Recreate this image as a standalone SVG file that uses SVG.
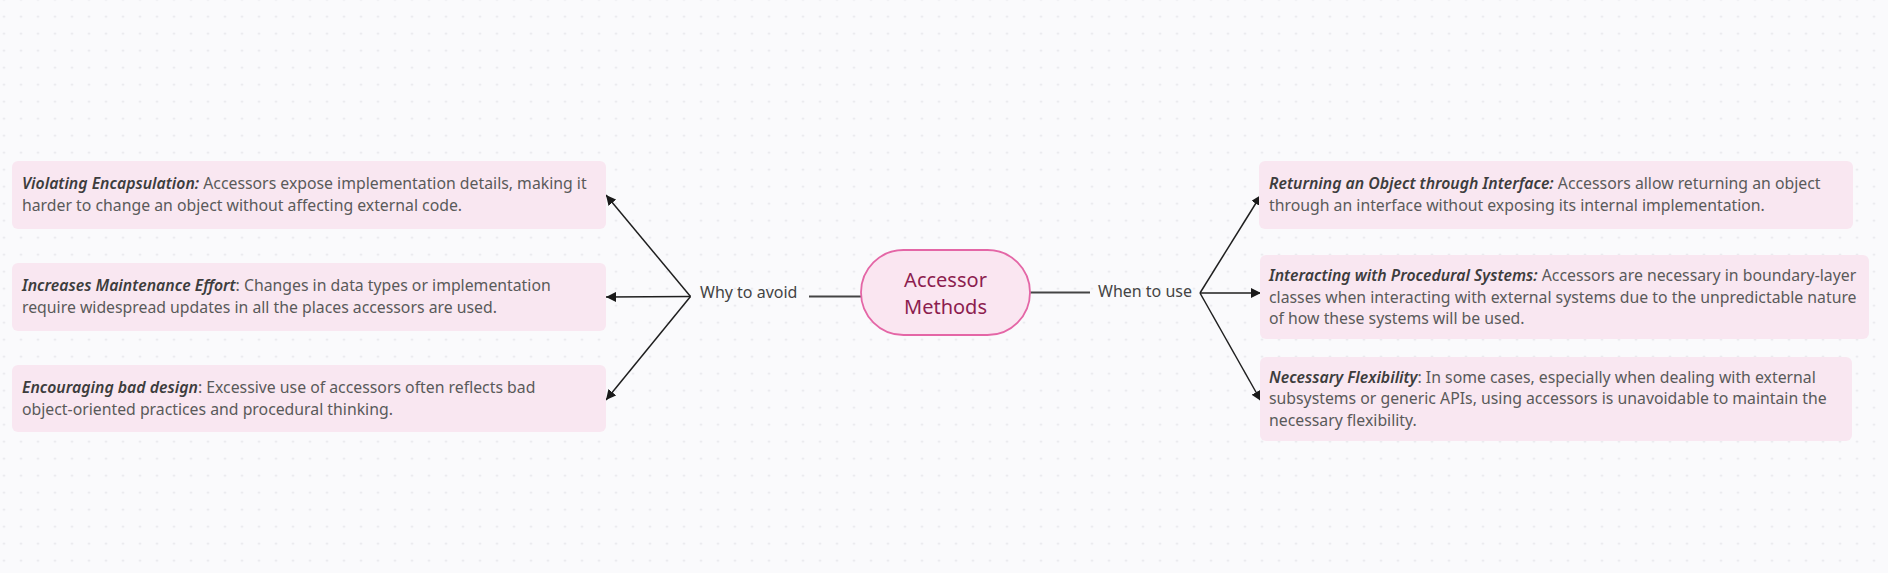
<svg xmlns="http://www.w3.org/2000/svg" width="1888" height="573" viewBox="0 0 1888 573">
<defs>
<pattern id="dots" x="-4.5" y="8.2" width="17" height="17" patternUnits="userSpaceOnUse">
<circle cx="8.5" cy="8.5" r="1" fill="#e1e1e7"/>
</pattern>
<marker id="arr" viewBox="0 0 10 10" refX="10" refY="5" markerWidth="10" markerHeight="10" markerUnits="userSpaceOnUse" orient="auto">
<path d="M0,0 L10,5 L0,10 z" fill="#1a1a1a"/>
</marker>
<style>
.box{fill:#f9e7f1;}
.t{font-family:"Noto Sans","Open Sans",sans-serif;font-size:15.8px;fill:#5a5a5a;}
.b{font-style:italic;font-weight:600;fill:#3d3d3d;}
.lbl{font-family:"Noto Sans","Open Sans",sans-serif;font-size:16px;fill:#444;}
.c{fill:none;stroke:#1f1f1f;stroke-width:1.5;}
.h{fill:none;stroke:#444;stroke-width:2;}
</style>
</defs>
<rect width="1888" height="573" fill="#fafafc"/>
<rect width="1888" height="573" fill="url(#dots)"/>

<g id="connectors">
<line class="h" x1="809" y1="296.5" x2="861" y2="296.5"/>
<line class="h" x1="1030" y1="292.5" x2="1090" y2="292.5"/>
<line class="c" x1="690.5" y1="296.5" x2="606" y2="195" marker-end="url(#arr)"/>
<line class="c" x1="690.5" y1="296.5" x2="606" y2="297" marker-end="url(#arr)"/>
<line class="c" x1="690.5" y1="296.5" x2="606" y2="400" marker-end="url(#arr)"/>
<line class="c" x1="1200" y1="293" x2="1261" y2="195" marker-end="url(#arr)"/>
<line class="c" x1="1200" y1="293" x2="1261" y2="293" marker-end="url(#arr)"/>
<line class="c" x1="1200" y1="293" x2="1261" y2="401" marker-end="url(#arr)"/>
</g>

<g id="center">
<rect x="861" y="250" width="169" height="85" rx="42.5" fill="#fae6f1" stroke="#e466a6" stroke-width="1.8"/>
<text x="945.5" y="286.5" text-anchor="middle" font-family="Noto Sans, Open Sans, sans-serif" font-size="20" fill="#8c1d4f">Accessor</text>
<text x="945.5" y="314" text-anchor="middle" font-family="Noto Sans, Open Sans, sans-serif" font-size="20" fill="#8c1d4f">Methods</text>
</g>

<g id="why">
<text class="lbl" x="700" y="297.5">Why to avoid</text>
</g>
<g id="when">
<text class="lbl" x="1098" y="297">When to use</text>
</g>

<g id="avoid1">
<rect class="box" x="12" y="161" width="594" height="68" rx="6"/>
<text class="t" x="22" y="189"><tspan class="b">Violating Encapsulation:</tspan> Accessors expose implementation details, making it</text>
<text class="t" x="22" y="211">harder to change an object without affecting external code.</text>
</g>
<g id="avoid2">
<rect class="box" x="12" y="263" width="594" height="68" rx="6"/>
<text class="t" x="22" y="291"><tspan class="b">Increases Maintenance Effort</tspan>: Changes in data types or implementation</text>
<text class="t" x="22" y="313">require widespread updates in all the places accessors are used.</text>
</g>
<g id="avoid3">
<rect class="box" x="12" y="365" width="594" height="67" rx="6"/>
<text class="t" x="22" y="393"><tspan class="b">Encouraging bad design</tspan>: Excessive use of accessors often reflects bad</text>
<text class="t" x="22" y="415">object-oriented practices and procedural thinking.</text>
</g>

<g id="use1">
<rect class="box" x="1259" y="161" width="594" height="68" rx="6"/>
<text class="t" x="1269" y="189"><tspan class="b">Returning an Object through Interface:</tspan> Accessors allow returning an object</text>
<text class="t" x="1269" y="211">through an interface without exposing its internal implementation.</text>
</g>
<g id="use2">
<rect class="box" x="1260" y="255" width="609" height="84" rx="6"/>
<text class="t" x="1269" y="281"><tspan class="b">Interacting with Procedural Systems:</tspan> Accessors are necessary in boundary-layer</text>
<text class="t" x="1269" y="302.5">classes when interacting with external systems due to the unpredictable nature</text>
<text class="t" x="1269" y="324">of how these systems will be used.</text>
</g>
<g id="use3">
<rect class="box" x="1260" y="357" width="592" height="84" rx="6"/>
<text class="t" x="1269" y="382.5"><tspan class="b">Necessary Flexibility</tspan>: In some cases, especially when dealing with external</text>
<text class="t" x="1269" y="404">subsystems or generic APIs, using accessors is unavoidable to maintain the</text>
<text class="t" x="1269" y="426">necessary flexibility.</text>
</g>
</svg>
